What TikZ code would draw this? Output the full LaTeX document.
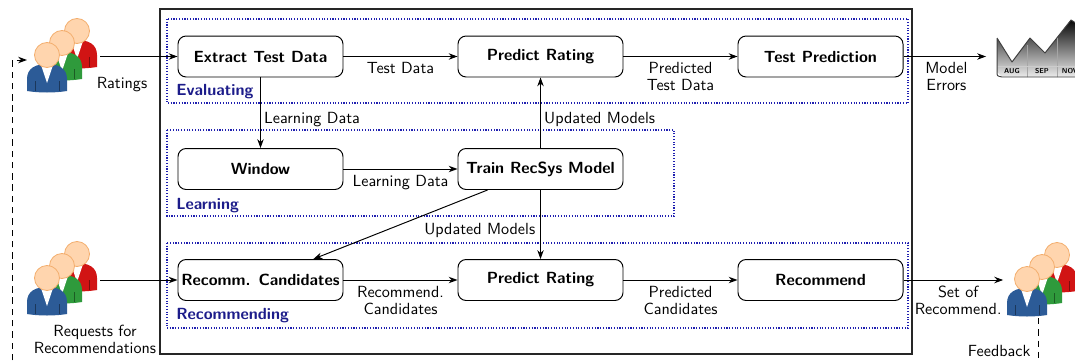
\documentclass[tikz,border=0pt]{standalone}
\usetikzlibrary{arrows.meta}
\definecolor{pblue}{HTML}{2C5B97}
\definecolor{pgreen}{HTML}{2F9A3C}
\definecolor{pred}{HTML}{D11414}
\definecolor{skin}{HTML}{FFD5AE}
\definecolor{skinline}{HTML}{F3AE6E}
\definecolor{grouptext}{HTML}{1C1C8A}
\definecolor{groupline}{HTML}{2020B0}
\begin{document}
\begin{tikzpicture}[x=0.62pt, y=-0.62pt, font=\sffamily,
  stepbox/.style={draw, line width=0.6pt, rounded corners=5pt, minimum width=102.3pt,
    minimum height=25.4pt, inner sep=1pt, font=\sffamily\bfseries},
  arr/.style={line width=0.6pt, -{Stealth[length=5.5pt,width=4pt,inset=1.8pt]}},
  lbl/.style={font=\sffamily\fontsize{10}{10.5}\selectfont, align=center, inner sep=2pt},
  lblbelow/.style={lbl, below, yshift=-1.5pt},
  groupbox/.style={draw=groupline, line width=0.7pt, densely dotted},
  grouplabel/.style={anchor=west, inner sep=0pt, text=grouptext, font=\sffamily\bfseries},
  anchorbox/.style={inner sep=0pt, minimum width=#1, minimum height=40pt},
  pics/person/.style={code={
    \fill[#1] (-20,36) -- (-20,24) .. controls (-20,13) and (-11,9) .. (0,9)
      .. controls (11,9) and (20,13) .. (20,24) -- (20,36)
      .. controls (8,38) and (-8,38) .. (-20,36) -- cycle;
    \fill[white] (-6,10) -- (6,10) -- (0,28) -- cycle;
    \draw[#1!60!black, line width=0.3pt] (-12,26) -- (-12,36) (12,26) -- (12,36);
    \filldraw[fill=skin, draw=skinline, line width=0.5pt] (0,0) circle (12.5);
  }},
  pics/crowd/.style={code={
    \pic at (30,-24) {person=pred};
    \pic at (15,-12) {person=pgreen};
    \pic at (0,0) {person=pblue};
  }}
]
\useasboundingbox (0,0) rectangle (1075,362);
\clip (0,0) rectangle (1075,362);

% frame of the recommender system and its three stages
\draw[line width=0.8pt, black!85] (160,9) rectangle (912,354);
\draw[groupbox] (167,19) rectangle (908,103);
\draw[groupbox] (167,130) rectangle (674,216);
\draw[groupbox] (167,243) rectangle (908,328);
\node[grouplabel] at (176,92) {Evaluating};
\node[grouplabel] at (176,206) {Learning};
\node[grouplabel] at (176,316) {Recommending};

% processing steps
\node[stepbox] (extract)   at (260.5,56.5) {Extract Test Data};
\node[stepbox] (predict1)  at (540.5,56.5) {Predict Rating};
\node[stepbox] (testpred)  at (820.5,56.5) {Test Prediction};
\node[stepbox] (window)    at (260.5,169)  {Window};
\node[stepbox] (train)     at (540.5,169)  {Train RecSys Model};
\node[stepbox] (recomm)    at (260.5,280)  {Recomm. Candidates};
\node[stepbox] (predict2)  at (540.5,280)  {Predict Rating};
\node[stepbox] (recommend) at (820.5,280)  {Recommend};

% user groups
\pic at (47,55) {crowd};
\pic at (47,278) {crowd};
\pic at (1027,279) {crowd};
\node[anchorbox=44.6pt] (raters)     at (64,56.5) {};
\node[anchorbox=44.6pt] (requesters) at (64,280) {};
\node[anchorbox=48.4pt] (recipients) at (1042.5,280) {};
\node[lbl] (ratingslbl) at (122,85) {Ratings};
\node[lbl] (requestlbl) at (95,339) {Requests for\\Recommendations};

% error chart
\coordinate (errchart) at (986,56.5);
\begin{scope}
  \clip (997,38) -- (1012,62) -- (1030,38) -- (1045,53) -- (1071,20) -- (1090,32)
    -- (1090,77) -- (1002,77) -- (997,72) -- cycle;
  \shade[top color=black, bottom color=gray!12] (990,18) rectangle (1095,78);
  \draw[gray!70, line width=0.4pt] (1027,45) -- (1027,78) (1057,30) -- (1057,78);
  \draw[white!60!gray, line width=0.4pt] (995,66) -- (1095,66);
\end{scope}
\draw[black!75, line width=0.6pt, line join=round]
  (997,38) -- (1012,62) -- (1030,38) -- (1045,53) -- (1071,20) -- (1090,32)
  (997,38) -- (997,72) .. controls (997,76) .. (1002,77) -- (1090,77);
\node[font=\sffamily\bfseries\fontsize{4.4}{5}\selectfont, inner sep=0pt] (aug) at (1012,71.5) {AUG};
\node[font=\sffamily\bfseries\fontsize{4.4}{5}\selectfont, inner sep=0pt] (sep) at (1042,71.5) {SEP};
\node[font=\sffamily\bfseries\fontsize{4.4}{5}\selectfont, inner sep=0pt] (nov) at (1070,71.5) {NOV};

% data flow
\draw[arr] (raters.east) -- (extract.west);
\draw[arr] (extract) -- node[lblbelow] {Test Data} (predict1);
\draw[arr] (predict1) -- node[lblbelow] {Predicted\\Test Data} (testpred);
\draw[arr] (testpred) -- node[lblbelow, xshift=1pt] {Model\\Errors} (errchart);
\draw[arr] (extract.south) -- node[lbl, right, pos=0.59] {Learning Data} (window.north);
\draw[arr] (window) -- node[lblbelow] {Learning Data} (train);
\draw[arr] (train) -- node[lbl, right, pos=0.41] {Updated Models} (predict1);
\draw[arr] (train) -- node[lbl, left, pos=0.59, xshift=-1pt] {Updated Models} (predict2);
\draw[arr] (train) -- (recomm);
\draw[arr] (requesters.east) -- (recomm.west);
\draw[arr] (recomm) -- node[lblbelow] {Recommend.\\Candidates} (predict2);
\draw[arr] (predict2) -- node[lblbelow] {Predicted\\Candidates} (recommend);
\draw[arr] (recommend) -- node[lblbelow, xshift=3pt] {Set of\\Recommend.} (recipients.west);

% feedback loop back to the raters
\coordinate (fbstart) at (1038,318);
\coordinate (fbend) at (27,60);
\coordinate (fbcornerA) at (1038,385);
\coordinate (fbcornerB) at (12,385);
\coordinate (fbcornerC) at (12,60);
\draw[line width=0.6pt, dash pattern=on 4pt off 3pt, -{Stealth[length=5.5pt,width=4pt,inset=1.8pt]}]
  (fbstart) -- (fbcornerA) -- (fbcornerB) -- (fbcornerC) -- (fbend);
\node[lbl, anchor=east] (fblabel) at (1034,351) {Feedback};
\end{tikzpicture}
\end{document}
